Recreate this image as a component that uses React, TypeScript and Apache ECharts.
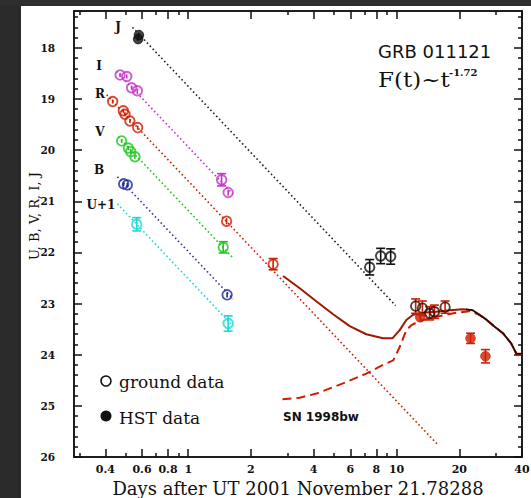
import React, { useEffect, useRef } from "react";
import * as echarts from "echarts";

// ---- axis ranges & ticks ----
const X_MIN = 0.283;
const X_MAX = 40;
const Y_MIN = 17.28;
const Y_MAX = 26;

const xMajorTicks = [0.4, 0.6, 0.8, 1, 2, 4, 6, 8, 10, 20, 40];
const xMinorTicks = [0.3, 0.5, 0.7, 0.9, 3, 5, 7, 9, 30];
const yMajorTicks = [18, 19, 20, 21, 22, 23, 24, 25, 26];
const yMinorTicks: number[] = [];
for (let m = 17; m < 26; m++) {
  for (let k = 1; k <= 4; k++) {
    const v = Math.round((m + 0.2 * k) * 10) / 10;
    if (v > Y_MIN && v < Y_MAX) yMinorTicks.push(v);
  }
}

// ---- photometry: [days, magnitude, error] ----
const J_hst = [[0.58, 17.75, 0.03], [0.575, 17.83, 0.03]];
const J_ground = [[7.43, 22.29, 0.15], [8.39, 22.07, 0.15], [9.37, 22.08, 0.15]];
const I_ground = [[0.471, 18.53, 0.04], [0.507, 18.56, 0.04], [0.535, 18.78, 0.04], [0.57, 18.84, 0.04], [1.446, 20.58, 0.12], [1.555, 20.83, 0.06]];
const R_ground = [[0.434, 19.05, 0.04], [0.488, 19.23, 0.04], [0.497, 19.3, 0.04], [0.525, 19.43, 0.04], [0.572, 19.56, 0.04], [1.528, 21.39, 0.06], [2.556, 22.23, 0.11]];
const R_late_ground = [[12.35, 23.05, 0.14], [13.3, 23.09, 0.14], [14.4, 23.19, 0.13], [15.2, 23.16, 0.13], [17.1, 23.07, 0.12]];
const R_hst = [[13.0, 23.27, 0.08], [22.65, 23.68, 0.1], [26.7, 24.03, 0.13]];
const V_ground = [[0.479, 19.82, 0.04], [0.516, 19.96, 0.04], [0.53, 20.03, 0.04], [0.555, 20.13, 0.04], [1.472, 21.9, 0.11]];
const B_ground = [[0.49, 20.66, 0.04], [0.51, 20.68, 0.04], [1.537, 22.83, 0.05]];
const U_ground = [[0.566, 21.45, 0.13], [1.555, 23.39, 0.15]];

// ---- power-law fits t^-1.72 (endpoints) ----
const J_fit = [[0.54, 17.6], [9.9, 23.04]];
const I_fit = [[0.453, 18.46], [1.64, 20.86]];
const R_fit = [[0.406, 18.92], [15.7, 25.75]];
const V_fit = [[0.462, 19.74], [1.643, 22.11]];
const B_fit = [[0.457, 20.52], [1.643, 22.91]];
const U_fit = [[0.457, 21.05], [1.64, 23.44]];

// ---- model curves ----
const totalModel = [[2.854, 22.46], [3.43, 22.7], [4.13, 22.96], [4.96, 23.21], [5.96, 23.44], [7.16, 23.6], [8.61, 23.68], [9.55, 23.68], [10.35, 23.52], [11.14, 23.32], [12.0, 23.22], [13.4, 23.18], [15.5, 23.16], [17.98, 23.13], [20.8, 23.11], [23.2, 23.13], [25.0, 23.22], [26.9, 23.31], [29.5, 23.45], [32.4, 23.58], [35.5, 23.78], [37.6, 23.98], [40, 23.98]];
const totalModelTail = [[21.5, 23.11], [23.2, 23.13], [25.0, 23.22], [26.9, 23.31], [29.5, 23.45], [32.4, 23.58], [35.5, 23.78], [37.6, 23.98], [40, 23.98]];
const snModel = [[2.835, 24.87], [3.43, 24.84], [4.13, 24.76], [5.53, 24.56], [7.16, 24.37], [8.61, 24.2], [9.64, 24.11], [10.35, 23.85], [11.14, 23.52], [11.8, 23.42], [12.9, 23.34], [15.5, 23.26], [19.3, 23.18], [22.4, 23.15], [25.0, 23.22], [26.9, 23.31], [29.5, 23.45], [32.4, 23.58], [35.5, 23.78], [37.6, 23.98], [40, 24.0]];

const COL = {
  J: "#111111",
  I: "#c832c8",
  R: "#cc1f00",
  V: "#22c422",
  B: "#1c2a90",
  U: "#1fd6d6",
  model: "#a01800",
  sn: "#d01c00",
};

const FONT_SERIF = '"DejaVu Serif", "Liberation Serif", serif';
const FONT_SANS = '"DejaVu Sans", "Liberation Sans", sans-serif';

const L = Math.log10;

function errSeries(data: number[][], color: string) {
  return {
    type: "custom",
    xAxisIndex: 0,
    yAxisIndex: 0,
    silent: true,
    z: 3,
    encode: { x: 0, y: [1, 2] },
    data: data.map((d) => [d[0], d[1] - d[2], d[1] + d[2]]),
    renderItem: (params: any, api: any) => {
      const x = api.value(0);
      const p1 = api.coord([x, api.value(1)]);
      const p2 = api.coord([x, api.value(2)]);
      const st = { stroke: color, lineWidth: 1.6 };
      const children: any[] = [
        { type: "line", shape: { x1: p1[0], y1: p1[1], x2: p2[0], y2: p2[1] }, style: st },
      ];
      if (Math.abs(p2[1] - p1[1]) > 10) {
        const hw = 4.5;
        children.push({ type: "line", shape: { x1: p1[0] - hw, y1: p1[1], x2: p1[0] + hw, y2: p1[1] }, style: st });
        children.push({ type: "line", shape: { x1: p2[0] - hw, y1: p2[1], x2: p2[0] + hw, y2: p2[1] }, style: st });
      }
      return { type: "group", children };
    },
  };
}

function pointSeries(data: number[][], color: string, filled: boolean) {
  return {
    type: "scatter",
    xAxisIndex: 0,
    yAxisIndex: 0,
    z: 4,
    symbol: "circle",
    symbolSize: 9.5,
    silent: true,
    data: data.map((d) => [d[0], d[1]]),
    itemStyle: filled
      ? { color, borderColor: color, borderWidth: 1 }
      : { color: "rgba(255,255,255,0)", borderColor: color, borderWidth: 1.9 },
  };
}

function fitSeries(data: number[][], color: string) {
  return {
    type: "line",
    xAxisIndex: 0,
    yAxisIndex: 0,
    z: 2,
    symbol: "none",
    silent: true,
    data,
    lineStyle: { color, width: 1.6, type: [1.6, 2.6] },
  };
}

const xLogAxis = (position: string, ticks: number[], len: number, withLabels: boolean) => ({
  type: "value",
  position,
  min: L(X_MIN),
  max: L(X_MAX),
  axisLine: { show: true, onZero: false, lineStyle: { color: "#111", width: 1.5 } },
  axisTick: { show: true, inside: true, length: len, customValues: ticks.map(L), lineStyle: { color: "#111", width: 1.5 } },
  axisLabel: withLabels
    ? {
        show: true,
        customValues: ticks.map(L),
        margin: 7,
        color: "#111",
        fontFamily: FONT_SERIF,
        fontWeight: "bold",
        fontSize: 11,
        formatter: (v: number) => {
          const t = ticks.find((k) => Math.abs(L(k) - v) < 1e-6);
          return t === undefined ? "" : String(t);
        },
      }
    : { show: false },
  splitLine: { show: false },
});

const yAxisDef = (position: string, ticks: number[], len: number, withLabels: boolean) => ({
  type: "value",
  position,
  inverse: true,
  min: Y_MIN,
  max: Y_MAX,
  axisLine: { show: true, onZero: false, lineStyle: { color: "#111", width: 1.5 } },
  axisTick: { show: true, inside: true, length: len, customValues: ticks, lineStyle: { color: "#111", width: 1.5 } },
  axisLabel: withLabels
    ? { show: true, customValues: ticks, margin: 19, color: "#111", fontFamily: FONT_SERIF, fontWeight: "bold", fontSize: 10.5 }
    : { show: false },
  splitLine: { show: false },
});

export default function App() {
  const ref = useRef<HTMLDivElement>(null);

  useEffect(() => {
    if (!ref.current) return;
    const chart = echarts.init(ref.current, null, { renderer: "svg" });

    const xBottom: any = xLogAxis("bottom", xMajorTicks, 8, true);
    xBottom.name = "Days after UT 2001 November 21.78288";
    xBottom.nameLocation = "middle";
    xBottom.nameGap = 22;
    xBottom.nameTextStyle = { fontFamily: FONT_SERIF, fontSize: 18, color: "#111" };

    const option: any = {
      animation: false,
      backgroundColor: "#ffffff",
      grid: { left: 74, right: 9, top: 11, bottom: 41, containLabel: false, outerBoundsMode: "none" },
      xAxis: [
        { type: "log", logBase: 10, min: X_MIN, max: X_MAX, show: false },
        xBottom,
        xLogAxis("bottom", xMinorTicks, 4, false),
        xLogAxis("top", xMajorTicks, 8, false),
        xLogAxis("top", xMinorTicks, 4, false),
      ],
      yAxis: [
        yAxisDef("left", yMajorTicks, 8, true),
        yAxisDef("left", yMinorTicks, 4, false),
        yAxisDef("right", yMajorTicks, 8, false),
        yAxisDef("right", yMinorTicks, 4, false),
      ],
      series: [
        fitSeries(J_fit, "#222"),
        fitSeries(I_fit, COL.I),
        fitSeries(R_fit, COL.R),
        fitSeries(V_fit, COL.V),
        fitSeries(B_fit, "#3a3aa0"),
        fitSeries(U_fit, COL.U),
        {
          type: "line", xAxisIndex: 0, yAxisIndex: 0, z: 2, symbol: "none", silent: true,
          data: snModel, lineStyle: { color: COL.sn, width: 2, type: [9, 5] },
        },
        {
          type: "line", xAxisIndex: 0, yAxisIndex: 0, z: 2, symbol: "none", silent: true,
          data: totalModel, lineStyle: { color: COL.model, width: 2 },
        },
        {
          type: "line", xAxisIndex: 0, yAxisIndex: 0, z: 2, symbol: "none", silent: true,
          data: totalModelTail, lineStyle: { color: "#111", width: 1.4 },
        },
        errSeries(J_ground, COL.J),
        errSeries(J_hst, COL.J),
        errSeries(I_ground, COL.I),
        errSeries(R_ground, COL.R),
        errSeries(R_late_ground, COL.R),
        errSeries(R_hst, COL.R),
        errSeries(V_ground, COL.V),
        errSeries(B_ground, COL.B),
        errSeries(U_ground, COL.U),
        pointSeries(J_hst, COL.J, true),
        pointSeries(J_ground, COL.J, false),
        pointSeries(I_ground, COL.I, false),
        pointSeries(R_ground, COL.R, false),
        pointSeries(R_late_ground, "#3a0a00", false),
        pointSeries(R_hst, COL.R, true),
        pointSeries(V_ground, COL.V, false),
        pointSeries(B_ground, COL.B, false),
        pointSeries(U_ground, COL.U, false),
      ],
      graphic: [
        { type: "rect", shape: { x: 0, y: 0, width: 21, height: 498 }, style: { fill: "#2a2a2a" }, silent: true },
        { type: "rect", shape: { x: 0, y: 0, width: 531, height: 6 }, style: { fill: "#2e2e2e" }, silent: true },
        {
          type: "text", x: 34, y: 216, rotation: Math.PI / 2, silent: true,
          style: { text: "U, B, V, R, I, J", font: `13px ${FONT_SERIF}`, fill: "#111", align: "center", verticalAlign: "middle" },
        },
        {
          type: "text", x: 378, y: 51, silent: true,
          style: { text: "GRB 011121", font: `18px ${FONT_SANS}`, fill: "#111", align: "left", verticalAlign: "middle" },
        },
        {
          type: "text", x: 378, y: 80, scaleX: 1.15, silent: true,
          style: { text: "F(t)~t", font: `20px ${FONT_SERIF}`, fill: "#111", align: "left", verticalAlign: "middle" },
        },
        {
          type: "text", x: 449, y: 72, silent: true,
          style: { text: "-1.72", font: `bold 10px ${FONT_SERIF}`, fill: "#111", align: "left", verticalAlign: "middle" },
        },
        ...[
          ["J", 118, 27],
          ["I", 99, 66],
          ["R", 100, 94],
          ["V", 100, 132],
          ["B", 99, 170],
          ["U+1", 101, 205],
        ].map(([t, x, y]) => ({
          type: "text", x, y, silent: true,
          style: { text: t, font: `bold 12px ${FONT_SERIF}`, fill: "#111", align: "center", verticalAlign: "middle" },
        })),
        { type: "circle", shape: { cx: 106, cy: 381, r: 5 }, style: { fill: "#fff", stroke: "#111", lineWidth: 1.6 }, silent: true },
        {
          type: "text", x: 119, y: 382, silent: true,
          style: { text: "ground data", font: `17px ${FONT_SERIF}`, fill: "#111", align: "left", verticalAlign: "middle" },
        },
        { type: "circle", shape: { cx: 106, cy: 416, r: 5.5 }, style: { fill: "#111" }, silent: true },
        {
          type: "text", x: 119, y: 418, silent: true,
          style: { text: "HST data", font: `17px ${FONT_SERIF}`, fill: "#111", align: "left", verticalAlign: "middle" },
        },
        {
          type: "text", x: 283, y: 417, silent: true,
          style: { text: "SN 1998bw", font: `bold 12px ${FONT_SANS}`, fill: "#111", align: "left", verticalAlign: "middle" },
        },
      ],
    };

    chart.setOption(option);
    return () => chart.dispose();
  }, []);

  return (
    <div
      ref={ref}
      style={{ position: "fixed", left: 0, top: 0, width: 531, height: 498 }}
    />
  );
}
